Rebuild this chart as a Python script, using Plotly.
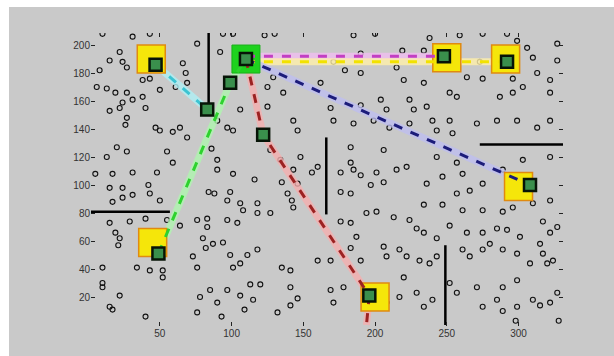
import plotly.graph_objects as go

# Scattered sensor nodes (open circles)
node_x = [10, 31, 43, 22, 15, 24, 8, 27, 76, 66, 68, 69, 61, 50, 38, 43, 6, 13, 19, 27, 38, 24, 31, 15, 22, 40,
          27, 26, 47, 50, 59, 69, 64, 20, 27, 55, 59, 13, 90, 97, 101, 86, 90, 106, 94, 101, 92,
          123, 130, 185, 200, 238, 259, 275, 292, 299, 306, 327, 327, 310, 171, 190, 219, 234, 273, 264, 275,
          296, 313, 322, 129, 125, 136, 162, 179, 190, 215, 220, 234, 252, 257, 287, 296, 303, 322, 125, 143,
          146, 169, 190, 204, 208, 224, 227, 236, 240, 252, 171, 185, 199, 210, 224, 243, 254, 271, 285, 299,
          313, 322, 183, 206, 222, 243, 257, 303, 322, 127, 134, 148, 160, 183,
          5, 17, 31, 48, 15, 24, 31, 24, 42, 43, 50, 17, 40, 15, 29, 55, 19, 22, 21, 10, 34, 43, 52, 52, 10,
          10, 22, 15, 76, 73, 82, 87, 80, 94, 99, 101, 106, 111, 113, 106, 97, 90, 85, 78, 76, 115, 104, 97,
          108, 118, 106, 97, 88, 84, 99, 90, 101, 83, 83, 64, 76,
          116, 143, 156, 135, 146, 139, 142, 118, 127, 143, 118, 135, 141, 120, 141, 146, 132, 176, 185, 190,
          201, 215, 206, 176, 183, 197, 236, 247, 261, 266, 275, 289, 294, 257, 234, 247, 261, 275, 289, 296,
          310, 322, 317, 322, 327, 194, 201, 213, 224, 229, 234, 243, 252, 264, 275, 285, 292, 301, 315, 317,
          324, 176, 183, 187, 183, 190, 206, 217, 222, 208, 231, 238, 243, 261, 266, 275, 280, 289, 299, 308,
          320, 252, 257, 271, 289, 299, 285, 299, 310, 322, 327, 217, 229, 234, 240, 220, 208, 275, 169, 178,
          171, 169, 160, 17, 40, 93, 109, 141, 289, 328, 315, 298]
node_y = [208, 206, 208, 195, 189, 188, 182, 184, 201, 187, 180, 173, 170, 168, 175, 176, 170, 169, 166, 166,
          163, 159, 161, 153, 155, 155, 148, 143, 141, 139, 138, 134, 141, 127, 124, 124, 116, 120, 146, 141,
          139, 126, 118, 154, 208, 208, 195,
          207, 208, 207, 208, 205, 207, 208, 208, 203, 198, 201, 189, 191, 188, 194, 196, 196, 188, 177, 176,
          176, 180, 175, 177, 170, 166, 173, 182, 180, 184, 175, 173, 166, 163, 163, 166, 170, 166, 156, 146,
          139, 155, 157, 161, 154, 161, 154, 156, 146, 146, 146, 144, 146, 141, 144, 139, 137, 144, 146, 146,
          141, 146, 127, 125, 113, 120, 116, 118, 120, 125, 118, 120, 113, 116,
          108, 108, 109, 109, 98, 98, 93, 91, 100, 94, 89, 88, 76, 73, 74, 75, 66, 62, 57, 41, 41, 39, 39, 34,
          30, 27, 21, 13, 41, 49, 55, 58, 62, 59, 50, 41, 44, 50, 29, 21, 25, 16, 25, 20, 9, 18, 73, 75,
          82, 87, 87, 89, 94, 95, 95, 111, 108, 76, 70, 71, 75,
          104, 111, 109, 102, 101, 94, 89, 80, 80, 84, 54, 41, 39, 29, 27, 19, 9, 109, 111, 107,
          109, 111, 102, 95, 94, 100, 101, 106, 108, 96, 101, 111, 94, 94, 86, 86, 82, 82, 81, 84,
          87, 89, 74, 66, 70, 80, 81, 77, 75, 69, 66, 62, 71, 66, 66, 69, 68, 63, 58, 51,
          46, 74, 73, 63, 55, 46, 56, 54, 49, 49, 46, 44, 49, 54, 49, 54, 58, 54, 51, 44,
          44, 30, 23, 27, 27, 32, 18, 13, 18, 16, 23, 20, 23, 13, 18, 34, 16, 13, 25, 27,
          16, 46, 46, 11, 6, 6, 11, 14, 10, 3, 14, 3]

# Obstacle walls: (x0, y0, x1, y1)
wall_x0 = [84, 0, 166, 273, 249]
wall_y0 = [158, 81, 134, 129, 57]
wall_x1 = [84, 57, 166, 332, 249]
wall_y1 = [210, 81, 79, 129, 0]

# Target cells (yellow) and the agent position inside each
target_x = [44, 250, 291, 300, 45, 200]
target_y = [190, 191, 190, 99, 59, 20]
agent_x = [47, 248, 292, 308, 49, 196]
agent_y = [186, 192, 188, 100, 51, 21]

# Base station and relay nodes
hub_x, hub_y = 110, 190
relay_x = [83, 99, 122]
relay_y = [154, 173, 136]

# Routes from the base station
route_magenta_x = [110, 248]
route_magenta_y = [192, 192]
route_yellow_x = [110, 292]
route_yellow_y = [188, 188]
route_navy_x = [110, 308]
route_navy_y = [190, 100]
route_red_x = [110, 122, 196, 194]
route_red_y = [190, 136, 21, 0]
route_cyan_x = [47, 83]
route_cyan_y = [186, 154]
route_green_x = [49, 99, 110]
route_green_y = [51, 173, 190]

routes = [
    (route_magenta_x, route_magenta_y, "#c23fc2", "rgba(240,190,240,0.8)"),
    (route_yellow_x, route_yellow_y, "#f2e200", "rgba(255,240,170,0.8)"),
    (route_navy_x, route_navy_y, "#1c1c7a", "rgba(190,190,240,0.8)"),
    (route_red_x, route_red_y, "#9c2222", "rgba(245,175,175,0.8)"),
    (route_cyan_x, route_cyan_y, "#3cc4d2", "rgba(175,240,245,0.8)"),
    (route_green_x, route_green_y, "#2ed22e", "rgba(175,245,175,0.8)"),
]

fig = go.Figure()

fig.add_trace(go.Scatter(
    x=node_x, y=node_y, mode="markers",
    marker=dict(symbol="circle-open", size=5, color="#111111", line=dict(width=1.1)),
    hoverinfo="skip"))

for xs, ys, dash_col, halo_col in routes:
    fig.add_trace(go.Scatter(x=xs, y=ys, mode="lines",
                             line=dict(color=halo_col, width=7), hoverinfo="skip"))

for i in range(len(wall_x0)):
    fig.add_trace(go.Scatter(x=[wall_x0[i], wall_x1[i]], y=[wall_y0[i], wall_y1[i]],
                             mode="lines", line=dict(color="black", width=2.5),
                             hoverinfo="skip"))

fig.add_trace(go.Scatter(
    x=target_x, y=target_y, mode="markers",
    marker=dict(symbol="square", size=28, color="#f5e60a",
                line=dict(color="#e08a10", width=1.5)),
    hoverinfo="skip"))

fig.add_trace(go.Scatter(
    x=[hub_x], y=[hub_y], mode="markers",
    marker=dict(symbol="square", size=28, color="#1ed21e",
                line=dict(color="#18b018", width=1)),
    hoverinfo="skip"))

for xs, ys, dash_col, halo_col in routes:
    fig.add_trace(go.Scatter(x=xs, y=ys, mode="lines",
                             line=dict(color=dash_col, width=3, dash="dash"),
                             hoverinfo="skip"))

fig.add_trace(go.Scatter(
    x=agent_x + relay_x + [hub_x], y=agent_y + relay_y + [hub_y], mode="markers",
    marker=dict(symbol="square", size=12, color="#3a8f4c",
                line=dict(color="#071407", width=2.5)),
    hoverinfo="skip"))

axis_common = dict(ticks="inside", ticklen=4, tickcolor="#222222", tickwidth=1,
                   showgrid=False, zeroline=False, showline=False, mirror="ticks",
                   tickfont=dict(family="Liberation Sans, Arial", size=10, color="#333333"))

fig.update_xaxes(range=[2, 331], tickvals=[50, 100, 150, 200, 250, 300], **axis_common)
fig.update_yaxes(range=[-0.7, 208.6], tickvals=[20, 40, 60, 80, 100, 120, 140, 160, 180, 200],
                 **axis_common)

# grey figure panel behind the axes, leaving a thin white band top and left
fig.add_shape(type="rect", xref="paper", yref="paper",
              x0=-82 / 472, x1=(614 - 91) / 472, y0=-30 / 293, y1=(356 - 7 - 30) / 293,
              fillcolor="#c9c9c9", line=dict(width=0), layer="below")

fig.update_layout(
    width=614, height=356,
    margin=dict(l=91, r=51, t=33, b=30),
    paper_bgcolor="white", plot_bgcolor="white",
    showlegend=False,
)

fig.write_html("out.html")
